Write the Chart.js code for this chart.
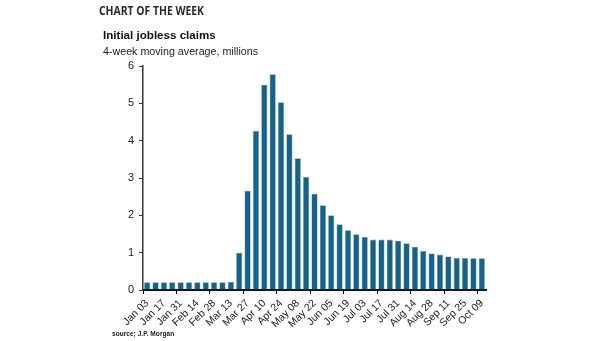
<!DOCTYPE html>
<html>
<head>
<meta charset="utf-8">
<script src="https://cdn.jsdelivr.net/npm/chart.js@4.4.0/dist/chart.umd.min.js"></script>
<style>
  body { margin: 0; background: #fff; }
  #wrap { position: relative; width: 605px; height: 341px; }
  #c { position: absolute; left: 0; top: 0; }
  .txt { position: absolute; white-space: nowrap; color: #111; font-family: "Liberation Sans", Arial, sans-serif; }
  #kicker { left: 99px; top: 2px; font-family: "Open Sans", sans-serif; font-weight: bold; font-size: 12.5px; color: #2a2a2a; transform-origin: 0 0; }
  #title { left: 103px; top: 28px; font-weight: bold; font-size: 11.6px; }
  #sub { left: 103px; top: 45px; font-size: 10.7px; color: #222; }
  #src { left: 112px; top: 330px; font-weight: bold; font-size: 6.6px; color: #222; }
</style>
</head>
<body>
<div id="wrap">
  <canvas id="c" width="605" height="341"></canvas>
  <div class="txt" id="kicker">CHART OF THE WEEK</div>
  <div class="txt" id="title">Initial jobless claims</div>
  <div class="txt" id="sub">4-week moving average, millions</div>
  <div class="txt" id="src">source; J.P. Morgan</div>
</div>
<script>
/* weekly dates, Jan 03 to Oct 09 */
var weeks = ["Jan 03","Jan 10","Jan 17","Jan 24","Jan 31","Feb 07","Feb 14","Feb 21","Feb 28","Mar 06",
  "Mar 13","Mar 20","Mar 27","Apr 03","Apr 10","Apr 17","Apr 24","May 01","May 08","May 15",
  "May 22","May 29","Jun 05","Jun 12","Jun 19","Jun 26","Jul 03","Jul 10","Jul 17","Jul 24",
  "Jul 31","Aug 07","Aug 14","Aug 21","Aug 28","Sep 04","Sep 11","Sep 18","Sep 25","Oct 02","Oct 09"];

/* 4-week moving average, millions */
var claims = [0.21,0.21,0.21,0.21,0.21,0.21,0.21,0.21,0.21,0.21,
  0.22,1.00,2.66,4.26,5.50,5.78,5.03,4.17,3.53,3.03,
  2.58,2.27,2.00,1.76,1.60,1.49,1.42,1.35,1.35,1.35,
  1.32,1.25,1.16,1.05,0.98,0.95,0.90,0.86,0.86,0.85,0.85];

var yTicks = [0,1,2,3,4,5,6];

/* squeeze the kicker to the narrow width it has in the original */
var k = document.getElementById('kicker');
k.style.transform = 'scaleX(' + (105 / k.getBoundingClientRect().width) + ')';

var ctx = document.getElementById('c').getContext('2d');
var chart = new Chart(ctx, {
  type: 'bar',
  data: {
    labels: weeks,
    datasets: [{
      data: claims,
      backgroundColor: '#16628b',
      borderColor: '#6f9fbb',
      borderWidth: 0.6,
      barPercentage: 0.74,
      categoryPercentage: 1.0
    }]
  },
  options: {
    responsive: false,
    animation: false,
    layout: { padding: { left: 100, right: 119, top: 66, bottom: 0 } },
    plugins: { legend: { display: false }, tooltip: { enabled: false } },
    scales: {
      x: {
        afterFit: function(s) { s.height = 51; },
        border: { color: '#111', width: 2 },
        grid: {
          drawOnChartArea: false,
          tickLength: 4,
          color: function(c) { return c.index % 4 == 0 ? '#111' : 'rgba(0,0,0,0)'; }
        },
        ticks: {
          autoSkip: false,
          maxRotation: 45,
          minRotation: 45,
          padding: 3,
          color: '#222',
          font: { family: 'Liberation Sans', size: 10.5 },
          callback: function(v, i) { return i % 2 == 0 ? weeks[i] : ''; }
        }
      },
      y: {
        min: 0,
        max: 6,
        afterFit: function(s) { s.width = 43; },
        afterBuildTicks: function(s) { s.ticks = yTicks.map(function(v) { return { value: v }; }); },
        border: { color: '#333', width: 1.5 },
        grid: { drawOnChartArea: false, tickLength: 4, color: '#333' },
        ticks: {
          padding: 5,
          color: '#222',
          font: { family: 'Liberation Sans', size: 11 }
        }
      }
    }
  }
});
</script>
</body>
</html>
